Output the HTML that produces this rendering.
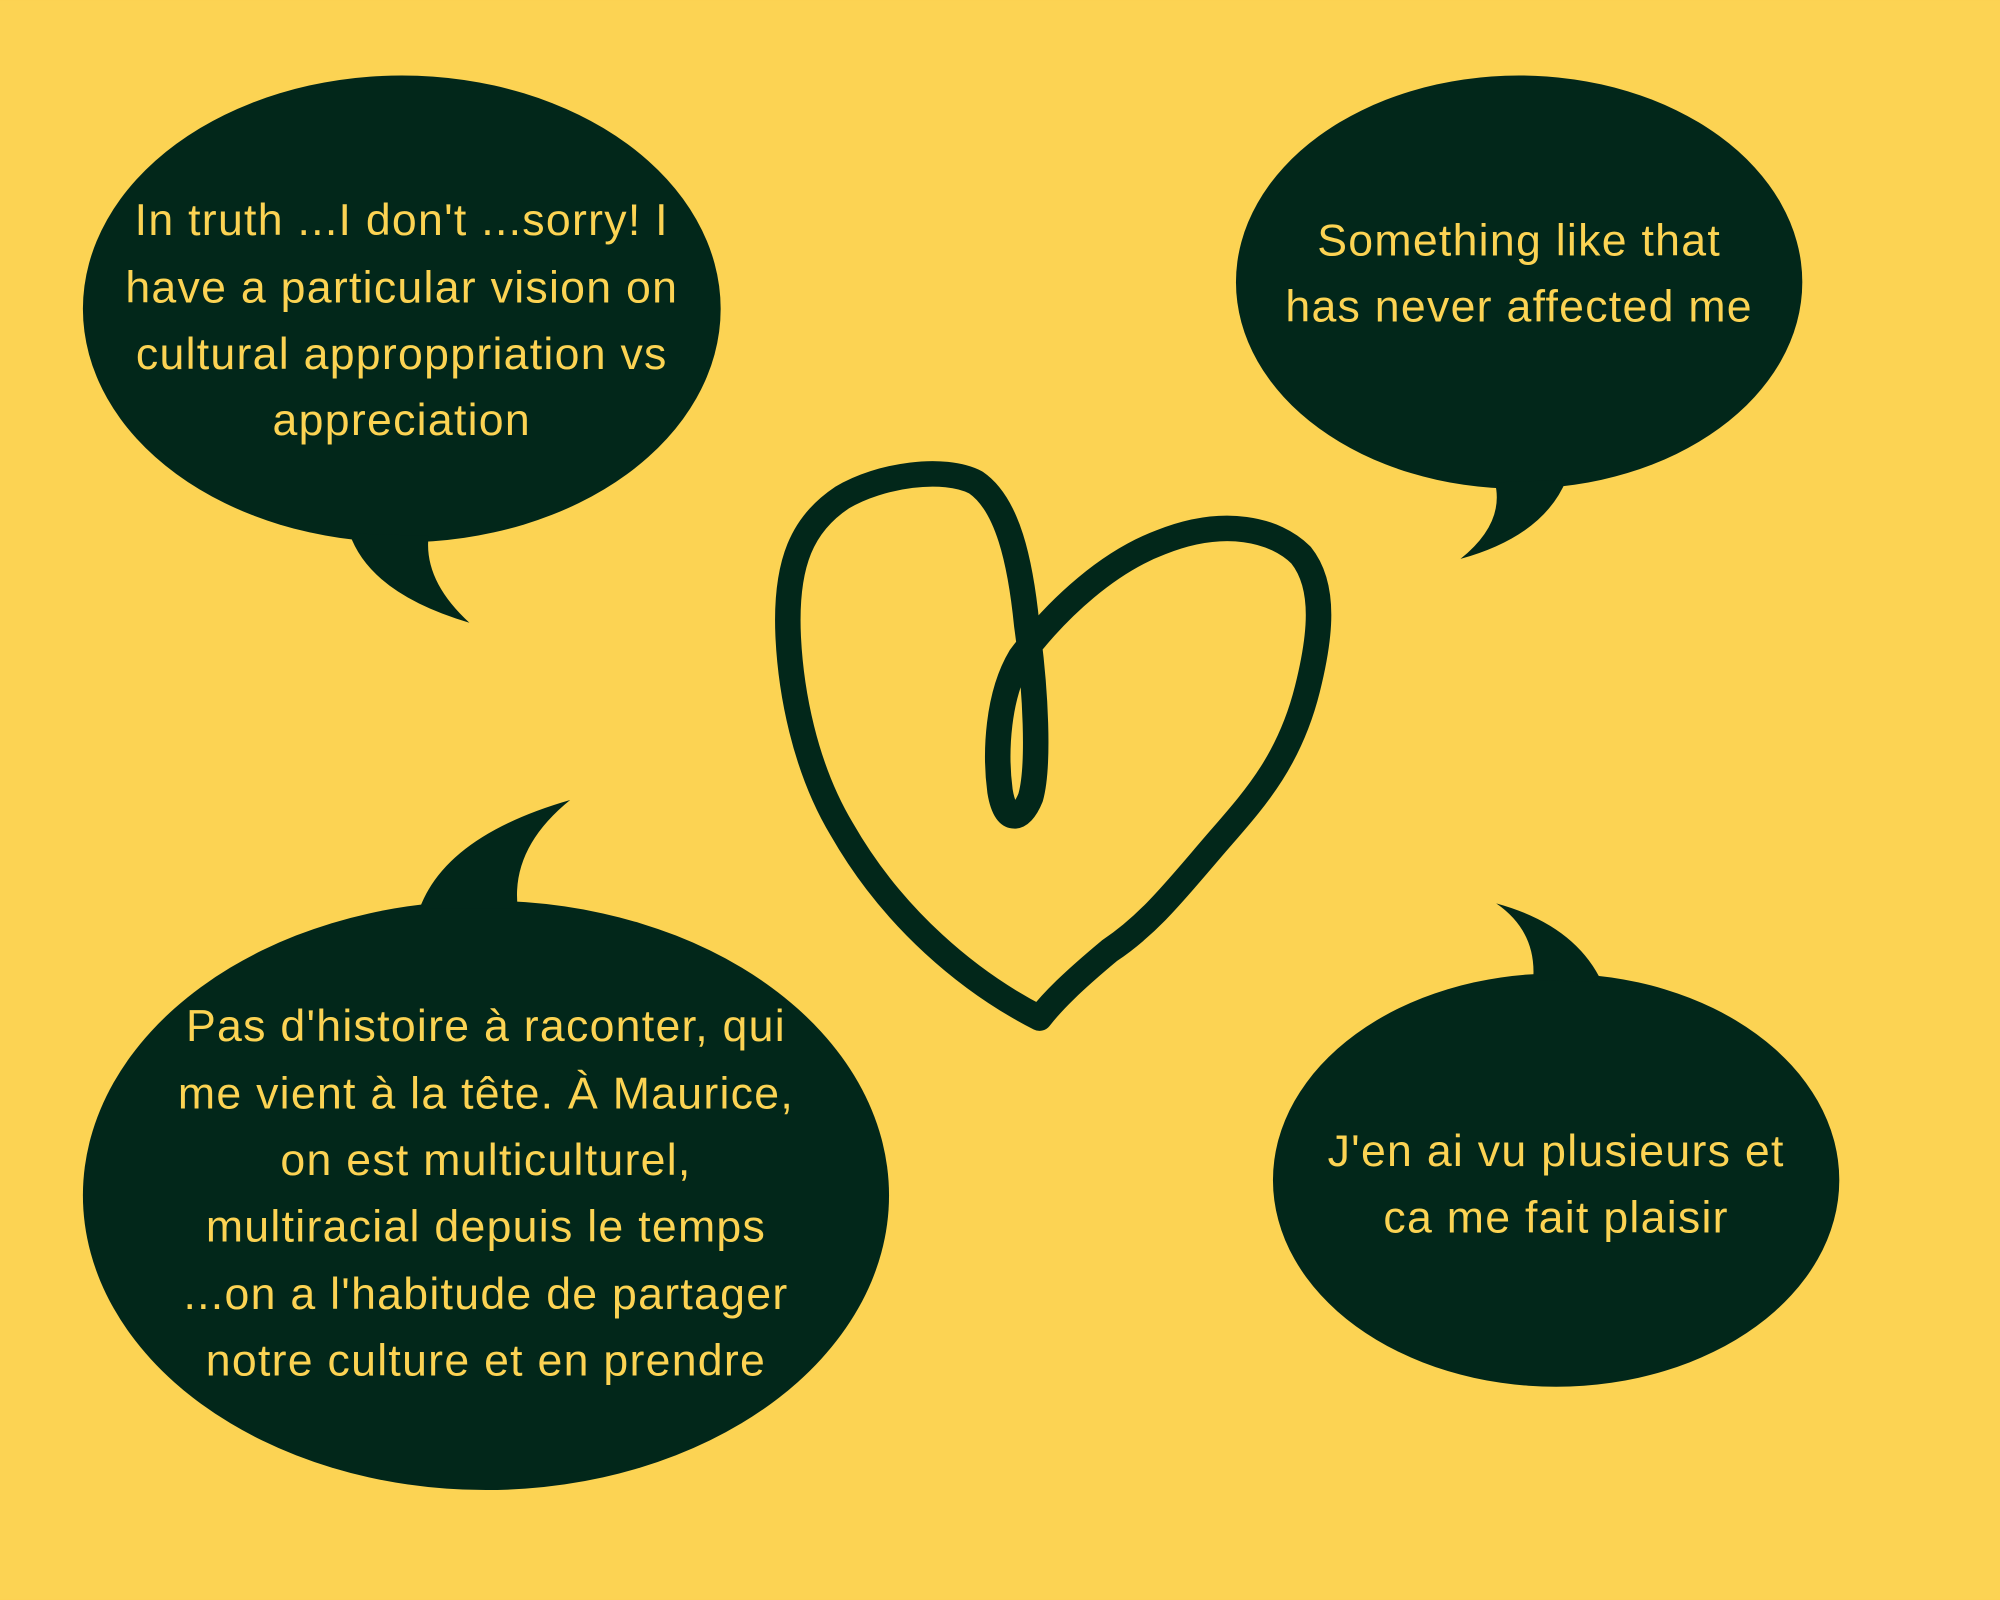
<!DOCTYPE html>
<html><head><meta charset="utf-8"><style>
html,body{margin:0;padding:0;background:#FCD353;}
svg{display:block;}
text{font-family:"Liberation Sans",sans-serif;fill:#FCD353;font-size:35px;letter-spacing:1px;text-anchor:middle;}
</style></head><body>
<svg width="2000" height="1600" viewBox="0 0 1568 1254" xmlns="http://www.w3.org/2000/svg">
<rect width="1568" height="1254" fill="#FCD353"/>
<g fill="#02271A">
<ellipse cx="315" cy="242" rx="250" ry="183"/>
<path d="M274,418 Q290,465 368,488 Q332,455 336,420 Z"/>
<ellipse cx="1191" cy="221" rx="222" ry="162"/>
<path d="M1172,378 Q1180,410 1145,438 Q1210,420 1228,376 Z"/>
<ellipse cx="381" cy="937" rx="316" ry="231"/>
<path d="M329,712 Q350,655 447,627 Q400,665 406,712 Z"/>
<ellipse cx="1220" cy="925" rx="222" ry="162"/>
<path d="M1202,768 Q1205,730 1173,708 Q1235,725 1256,770 Z"/>
</g>
<path d="M815,798 C760,770 700,720 660,650 C630,600 620,540 618,500 C615,440 630,410 660,390 C690,372 740,365 765,378 C790,395 800,440 805,490 C812,540 815,600 808,625 C800,645 788,645 784,620 C780,590 782,545 800,515 C830,475 870,440 910,425 C960,405 1000,415 1020,435 C1040,460 1035,500 1025,540 C1010,600 980,630 950,665 C920,700 900,725 870,745 C840,770 825,785 815,798 Z" fill="none" stroke="#02271A" stroke-width="20" stroke-linejoin="round"/>
<text x="315" y="184">In truth ...I don't ...sorry! I</text>
<text x="315" y="237">have a particular vision on</text>
<text x="315" y="289">cultural approppriation vs</text>
<text x="315" y="341">appreciation</text>
<text x="1191" y="200">Something like that</text>
<text x="1191" y="252">has never affected me</text>
<text x="381" y="816">Pas d'histoire à raconter, qui</text>
<text x="381" y="869">me vient à la tête. À Maurice,</text>
<text x="381" y="921">on est multiculturel,</text>
<text x="381" y="973">multiracial depuis le temps</text>
<text x="381" y="1026">...on a l'habitude de partager</text>
<text x="381" y="1078">notre culture et en prendre</text>
<text x="1220" y="914">J'en ai vu plusieurs et</text>
<text x="1220" y="966">ca me fait plaisir</text>
</svg>
</body></html>
